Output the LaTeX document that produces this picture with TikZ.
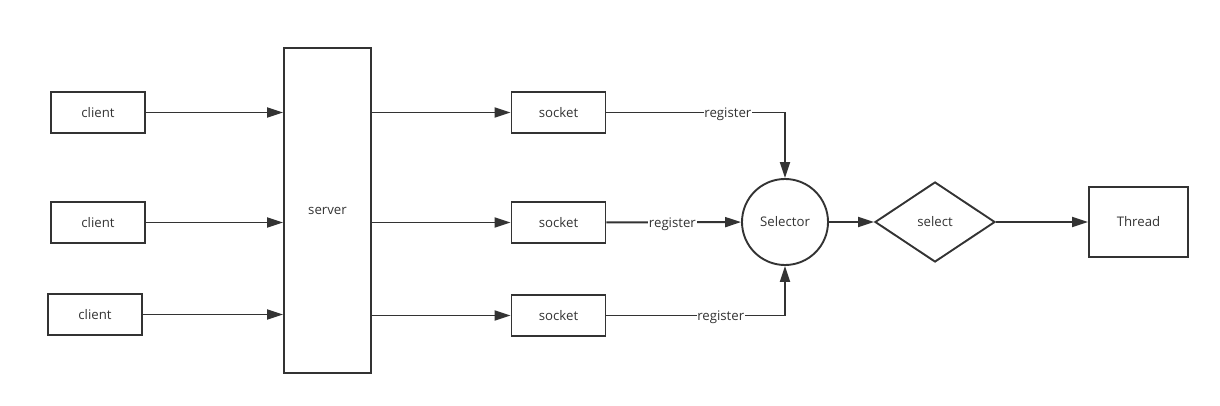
\documentclass[tikz,border=0pt]{standalone}
\usepackage{fontspec}
\setmainfont{Open Sans}
\usetikzlibrary{arrows.meta,positioning,shapes.geometric,calc}
\definecolor{ink}{RGB}{51,51,51}
\tikzset{>={Triangle[length=0.4cm,width=0.25cm]}}
\tikzset{
  every node/.style={text=ink,font=\fontsize{9.4}{11}\selectfont},
  box/.style={draw=ink,line width=1.35pt,rectangle,inner sep=0pt,minimum width=2.35cm,minimum height=1.025cm},
  conn/.style={->,draw=ink,line width=1.35pt},
  lbl/.style={fill=white,inner sep=0.5pt,text depth=0pt}
}
\begin{document}
\begin{tikzpicture}[x=0.025cm,y=-0.025cm]
  \useasboundingbox (0,0) rectangle (1220,406);

  %% clients and server
  \node [box] at (98,112.5) (cl1) {client};
  \node [box] at (98,222.5) (cl2) {client};
  \node [box] at (95,314.5) (cl3) {client};
  \node [box,minimum width=2.175cm,minimum height=8.125cm] at (327.5,210.5) (srv) {server};

  %% sockets
  \node [box] at (558.5,112.5) (sk1) {socket};
  \node [box] at (558.5,222.5) (sk2) {socket};
  \node [box] at (558.5,315.5) (sk3) {socket};

  %% selector, select, thread
  \node [circle,draw=ink,line width=1.35pt,minimum size=2.15cm,inner sep=0pt] at (785,222) (sel) {Selector};
  \node [diamond,draw=ink,line width=1.35pt,minimum width=3cm,minimum height=2cm,inner sep=0pt] at (935,222) (slt) {select};
  \node [box,minimum width=2.475cm,minimum height=1.75cm] at (1138.5,222) (thr) {Thread};

  \foreach \i in {1,2,3} {
    \draw [conn] (cl\i) -- (cl\i -| srv.west);
    \draw [conn] (srv.east |- sk\i) -- (sk\i);
  }

  %% register arrows
  \draw [conn] (sk1) -- node [lbl,pos=0.68] {register} (sk1 -| sel) -- (sel);
  \draw [conn] (sk2) -- node [lbl,pos=0.49] {register} (sel);
  \draw [conn] (sk3) -- node [lbl,pos=0.64] {register} (sk3 -| sel) -- (sel);

  \draw [conn] (sel) -- (slt);
  \draw [conn] (slt) -- (thr);
\end{tikzpicture}
\end{document}
